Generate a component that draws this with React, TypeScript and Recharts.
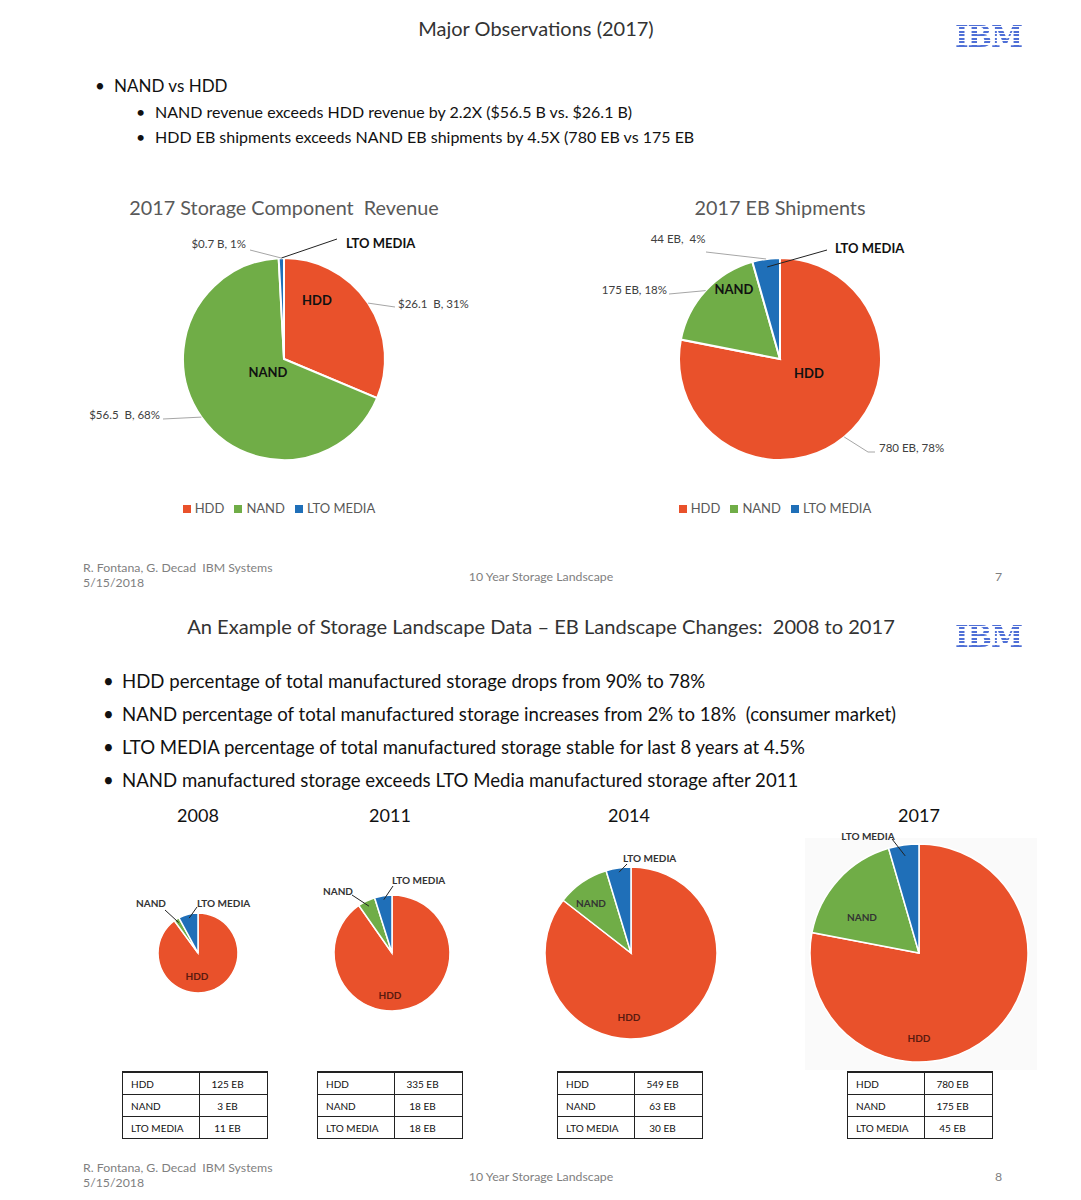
import React from 'react';
import { PieChart, Pie, Cell, Legend } from 'recharts';

// ---------- DATA ----------
const categories = ['HDD', 'NAND', 'LTO MEDIA'];
const revenueValues = [26.1, 56.5, 0.7];
const revenueValueLabels = ['$26.1  B, 31%', '$56.5  B, 68%', '$0.7 B, 1%'];
const shipmentValues = [780, 175, 44];
const shipmentValueLabels = ['780 EB, 78%', '175 EB, 18%', '44 EB,  4%'];

const years = ['2008', '2011', '2014', '2017'];
const hddEB = [125, 335, 549, 780];
const nandEB = [3, 18, 63, 175];
const ltoEB = [11, 18, 30, 45];

const topBullet = 'NAND vs HDD';
const topSubBullets = [
  'NAND revenue exceeds HDD revenue by 2.2X ($56.5 B vs. $26.1 B)',
  'HDD EB shipments exceeds NAND EB shipments by 4.5X (780 EB vs 175 EB',
];
const bottomBullets = [
  'HDD percentage of total manufactured storage drops from 90% to 78%',
  'NAND percentage of total manufactured storage increases from 2% to 18%  (consumer market)',
  'LTO MEDIA percentage of total manufactured storage stable for last 8 years at 4.5%',
  'NAND manufactured storage exceeds LTO Media manufactured storage after 2011',
];

// ---------- STYLE ----------
const COLORS = ['#E9512B', '#70AD47', '#1F6FB8'];
const W = 1081;
const RAD = Math.PI / 180;

type Pt = [number, number];
interface LabelSpec {
  text: string;
  at: Pt;
  anchor: 'start' | 'middle' | 'end';
  bold?: boolean;
  color?: string;
  size?: number;
  lead?: Pt[];
  leadR?: number;
  leadColor?: string;
}

const makeLabel = (specs: LabelSpec[][], fontSize: number) => (p: any) => {
  const { cx, cy, midAngle, outerRadius, index } = p;
  const items = specs[index] || [];
  return (
    <g>
      {items.map((s, i) => {
        let line = null;
        if (s.lead) {
          const r = outerRadius * (s.leadR ?? 1);
          const sx = cx + r * Math.cos(-midAngle * RAD);
          const sy = cy + r * Math.sin(-midAngle * RAD);
          const pts = [[sx, sy], ...s.lead.map(([dx, dy]) => [cx + dx, cy + dy])]
            .map((q) => q.join(','))
            .join(' ');
          line = <polyline points={pts} fill="none" stroke={s.leadColor || '#a6a6a6'} strokeWidth={1} />;
        }
        return (
          <g key={i}>
            {line}
            <text
              x={cx + s.at[0]}
              y={cy + s.at[1]}
              textAnchor={s.anchor}
              dominantBaseline="central"
              fontSize={s.size || fontSize}
              fontWeight={s.bold ? 700 : 400}
              fill={s.color || '#404040'}
              style={{ whiteSpace: 'pre' }}
            >
              {s.text}
            </text>
          </g>
        );
      })}
    </g>
  );
};

const revenueData = categories.map((name, i) => ({ name, value: revenueValues[i], fill: COLORS[i] }));
const shipmentData = categories.map((name, i) => ({ name, value: shipmentValues[i], fill: COLORS[i] }));

const VAL = 11.5;
const revenueSpecs: LabelSpec[][] = [
  [
    { text: categories[0], at: [33, -59], anchor: 'middle', bold: true, color: '#111' },
    { text: revenueValueLabels[0], at: [114, -56], anchor: 'start', size: VAL, lead: [[111, -52]] },
  ],
  [
    { text: categories[1], at: [-16, 13], anchor: 'middle', bold: true, color: '#111' },
    { text: revenueValueLabels[1], at: [-124, 55], anchor: 'end', size: VAL, lead: [[-121, 60]] },
  ],
  [
    { text: categories[2], at: [62, -116], anchor: 'start', bold: true, color: '#111', lead: [[53, -120]], leadColor: '#222' },
    { text: revenueValueLabels[2], at: [-38, -116], anchor: 'end', size: VAL, lead: [[-34, -109]] },
  ],
];

const shipmentSpecs: LabelSpec[][] = [
  [
    { text: categories[0], at: [29, 14], anchor: 'middle', bold: true, color: '#111' },
    { text: shipmentValueLabels[0], at: [99, 88], anchor: 'start', size: VAL, lead: [[88, 93], [95, 93]] },
  ],
  [
    { text: categories[1], at: [-46, -70], anchor: 'middle', bold: true, color: '#111' },
    { text: shipmentValueLabels[1], at: [-113, -70], anchor: 'end', size: VAL, lead: [[-111, -65]] },
  ],
  [
    { text: categories[2], at: [55, -111], anchor: 'start', bold: true, color: '#111', lead: [[47, -109]], leadR: 0.92, leadColor: '#222' },
    { text: shipmentValueLabels[2], at: [-102, -121], anchor: 'middle', size: VAL, lead: [[-74, -107]] },
  ],
];

// bottom pies layout
const bottomCx = [198, 392, 631, 919];
const bottomR = [40, 58, 86, 109];
const HDD_LBL = '#5a1a10';
const bottomSpecs: LabelSpec[][][] = [
  [
    [{ text: categories[0], at: [-1, 23], anchor: 'middle', bold: true, color: HDD_LBL }],
    [{ text: categories[1], at: [-47, -50], anchor: 'middle', bold: true, color: '#333', lead: [[-33, -43]], leadR: 0.9, leadColor: '#222' }],
    [{ text: categories[2], at: [-1, -50], anchor: 'start', bold: true, color: '#333', lead: [[-1, -46]], leadR: 0.9, leadColor: '#222' }],
  ],
  [
    [{ text: categories[0], at: [-2, 42], anchor: 'middle', bold: true, color: HDD_LBL }],
    [{ text: categories[1], at: [-54, -62], anchor: 'middle', bold: true, color: '#333', lead: [[-40, -58]], leadR: 0.9, leadColor: '#222' }],
    [{ text: categories[2], at: [0, -73], anchor: 'start', bold: true, color: '#333', lead: [[1, -67]], leadR: 0.93, leadColor: '#222' }],
  ],
  [
    [{ text: categories[0], at: [-2, 64], anchor: 'middle', bold: true, color: HDD_LBL }],
    [{ text: categories[1], at: [-40, -50], anchor: 'middle', bold: true, color: '#333' }],
    [{ text: categories[2], at: [-8, -95], anchor: 'start', bold: true, color: '#333', lead: [[-4, -89]], leadR: 0.95, leadColor: '#222' }],
  ],
  [
    [{ text: categories[0], at: [0, 85], anchor: 'middle', bold: true, color: HDD_LBL }],
    [{ text: categories[1], at: [-57, -36], anchor: 'middle', bold: true, color: '#333' }],
    [{ text: categories[2], at: [-51, -117], anchor: 'middle', bold: true, color: '#333', lead: [[-27, -114]], leadR: 0.9, leadColor: '#222' }],
  ],
];

const bottomData = years.map((_, i) =>
  categories.map((name, k) => ({ name, value: [hddEB[i], nandEB[i], ltoEB[i]][k], fill: COLORS[k] }))
);

// ---------- HELPERS ----------
const T = ({ x, y, size, anchor = 'start', color = '#222', weight = 400, children }: any) => {
  const style: any = {
    position: 'absolute',
    top: y - size * 0.6,
    fontSize: size,
    lineHeight: `${size * 1.2}px`,
    color,
    fontWeight: weight,
    whiteSpace: 'pre',
  };
  if (anchor === 'start') style.left = x;
  else if (anchor === 'middle') {
    style.left = x;
    style.transform = 'translateX(-50%)';
  } else style.right = W - x;
  return <div style={style}>{children}</div>;
};

const IBMLogo = ({ x, y }: any) => (
  <div
    style={{
      position: 'absolute',
      left: x,
      top: y,
      height: 27,
      fontFamily: '"DejaVu Serif", serif',
      fontWeight: 900,
      fontSize: 29,
      lineHeight: '27px',
      letterSpacing: -1,
      background: 'repeating-linear-gradient(to bottom, #4f6fd6 0px, #4f6fd6 2px, rgba(255,255,255,0) 2px, rgba(255,255,255,0) 3.5px)',
      WebkitBackgroundClip: 'text',
      backgroundClip: 'text',
      color: 'transparent',
    }}
  >
    IBM
  </div>
);

const EBTable = ({ x, i }: any) => {
  const rows = [hddEB[i], nandEB[i], ltoEB[i]];
  const cell: any = { border: '1px solid #222', height: 21, padding: 0, fontSize: 10, color: '#111' };
  return (
    <table
      style={{
        position: 'absolute',
        left: x,
        top: 1071,
        borderCollapse: 'collapse',
        borderTop: '2px solid #222',
        fontFamily: 'Lato, sans-serif',
      }}
    >
      <tbody>
        {categories.map((c, k) => (
          <tr key={c}>
            <td style={{ ...cell, width: 68, paddingLeft: 8 }}>{c}</td>
            <td style={{ ...cell, width: 55, paddingRight: 12, textAlign: 'center' }}>{`${rows[k]} EB`}</td>
          </tr>
        ))}
      </tbody>
    </table>
  );
};

const legendFormatter = (value: any) => <span style={{ color: '#595959', fontSize: 13 }}>{value}</span>;

const TopPie = ({ left, data, specs }: any) => (
  <div style={{ position: 'absolute', left, top: 190, width: 480, height: 340 }}>
    <PieChart width={480} height={340} margin={{ top: 0, right: 0, bottom: 0, left: 0 }}>
      <Pie
        data={data}
        dataKey="value"
        nameKey="name"
        cx={240}
        cy={169}
        outerRadius={101}
        startAngle={90}
        endAngle={-270}
        stroke="#fff"
        strokeWidth={2}
        isAnimationActive={false}
        labelLine={false}
        label={makeLabel(specs, 13)}
      >
        {data.map((d: any, i: number) => (
          <Cell key={i} fill={COLORS[i]} />
        ))}
      </Pie>
      <Legend
        verticalAlign="bottom"
        align="center"
        iconType="square"
        iconSize={8}
        itemSorter={null as any}
        formatter={legendFormatter}
        wrapperStyle={{ top: 308, bottom: 'auto', lineHeight: '18px' }}
      />
    </PieChart>
  </div>
);

// ---------- APP ----------
export default function App() {
  return (
    <div
      style={{
        position: 'absolute',
        left: 0,
        top: 0,
        width: W,
        height: 1200,
        background: '#fff',
        fontFamily: 'Lato, "Open Sans", sans-serif',
        overflow: 'hidden',
      }}
    >
      {/* Slide 1 */}
      <T x={536} y={28} size={20} anchor="middle" color="#333">Major Observations (2017)</T>
      <IBMLogo x={955} y={24} />
      <T x={95} y={86} size={17} color="#111">•</T>
      <T x={114} y={86} size={17} color="#111">{topBullet}</T>
      {topSubBullets.map((s, i) => (
        <React.Fragment key={i}>
          <T x={136} y={112 + i * 25} size={16} color="#111">•</T>
          <T x={155} y={112 + i * 25} size={16} color="#111">{s}</T>
        </React.Fragment>
      ))}

      <T x={284} y={208} size={19.8} anchor="middle" color="#595959">2017 Storage Component  Revenue</T>
      <T x={780} y={208} size={19.8} anchor="middle" color="#595959">2017 EB Shipments</T>

      <TopPie left={44} data={revenueData} specs={revenueSpecs} />
      <TopPie left={540} data={shipmentData} specs={shipmentSpecs} />

      <T x={83} y={568} size={12.3} color="#7f7f7f">R. Fontana, G. Decad  IBM Systems</T>
      <T x={83} y={583} size={12.3} color="#7f7f7f">5/15/2018</T>
      <T x={541} y={577} size={12.3} anchor="middle" color="#7f7f7f">10 Year Storage Landscape</T>
      <T x={995} y={577} size={12.3} color="#7f7f7f">7</T>

      {/* Slide 2 */}
      <T x={541} y={626} size={20.1} anchor="middle" color="#333">An Example of Storage Landscape Data – EB Landscape Changes:  2008 to 2017</T>
      <IBMLogo x={955} y={624} />
      {bottomBullets.map((s, i) => (
        <React.Fragment key={i}>
          <T x={103} y={681 + i * 33} size={18.6} color="#111">•</T>
          <T x={122} y={681 + i * 33} size={18.6} color="#111">{s}</T>
        </React.Fragment>
      ))}
      {years.map((y, i) => (
        <T key={y} x={[198, 390, 629, 919][i]} y={816} size={18} anchor="middle" color="#111">{y}</T>
      ))}

      <div style={{ position: 'absolute', left: 805, top: 838, width: 232, height: 232, background: '#fafafa' }} />

      <div style={{ position: 'absolute', left: 0, top: 810, width: W, height: 270 }}>
        <PieChart width={W} height={270} margin={{ top: 0, right: 0, bottom: 0, left: 0 }}>
          {years.map((y, i) => (
            <Pie
              key={y}
              data={bottomData[i]}
              dataKey="value"
              nameKey="name"
              cx={bottomCx[i]}
              cy={143}
              outerRadius={bottomR[i]}
              startAngle={90}
              endAngle={-270}
              stroke="#fff"
              strokeWidth={1.5}
              isAnimationActive={false}
              labelLine={false}
              label={makeLabel(bottomSpecs[i], 10)}
            >
              {bottomData[i].map((d, k) => (
                <Cell key={k} fill={COLORS[k]} />
              ))}
            </Pie>
          ))}
        </PieChart>
      </div>

      {[122, 317, 557, 847].map((x, i) => (
        <EBTable key={i} x={x} i={i} />
      ))}

      <T x={83} y={1168} size={12.3} color="#7f7f7f">R. Fontana, G. Decad  IBM Systems</T>
      <T x={83} y={1183} size={12.3} color="#7f7f7f">5/15/2018</T>
      <T x={541} y={1177} size={12.3} anchor="middle" color="#7f7f7f">10 Year Storage Landscape</T>
      <T x={995} y={1177} size={12.3} color="#7f7f7f">8</T>
    </div>
  );
}
